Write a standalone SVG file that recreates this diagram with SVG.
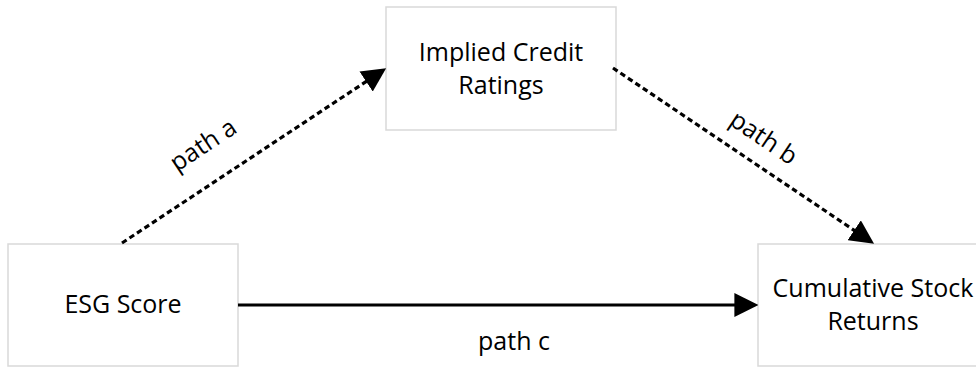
<svg xmlns="http://www.w3.org/2000/svg" width="976" height="367" viewBox="0 0 976 367">
<style>
.box{fill:#ffffff;stroke:#d9d9d9;stroke-width:1.5}
.lbl{font-family:"Open Sans","Liberation Sans",sans-serif;font-size:25px;fill:#000000;text-anchor:middle}
.conn{stroke:#000000;stroke-width:3.2;fill:none}
.dash{stroke-dasharray:5.5 3.5}
</style>
<defs>
<marker id="arr" markerUnits="userSpaceOnUse" markerWidth="24" markerHeight="24" viewBox="0 0 22 22" refX="7" refY="11" orient="auto">
<path d="M0,0 L22,11 L0,22 z" fill="#000000"/>
</marker>
</defs>
<rect width="976" height="367" fill="#ffffff"/>
<g id="node-implied">
<rect class="box" x="386" y="7" width="230" height="123"/>
<text class="lbl" x="501" y="61">Implied Credit</text>
<text class="lbl" x="501" y="94">Ratings</text>
</g>
<g id="node-esg">
<rect class="box" x="8" y="244" width="230" height="122"/>
<text class="lbl" x="123" y="313">ESG Score</text>
</g>
<g id="node-returns">
<rect class="box" x="758" y="244" width="230" height="122"/>
<text class="lbl" x="873" y="297">Cumulative Stock</text>
<text class="lbl" x="873" y="330">Returns</text>
</g>
<g id="connectors">
<line class="conn dash" x1="122" y1="243" x2="372.5" y2="77.3" marker-end="url(#arr)"/>
<line class="conn dash" x1="613" y1="68" x2="860.5" y2="234.6" marker-end="url(#arr)"/>
<line class="conn" x1="238" y1="305" x2="742" y2="305" marker-end="url(#arr)"/>
<text class="lbl" transform="translate(204,146) rotate(-33.5)" x="0" y="7">path a</text>
<text class="lbl" transform="translate(763,139) rotate(33.9)" x="0" y="7">path b</text>
<text class="lbl" x="514" y="350">path c</text>
</g>
</svg>
